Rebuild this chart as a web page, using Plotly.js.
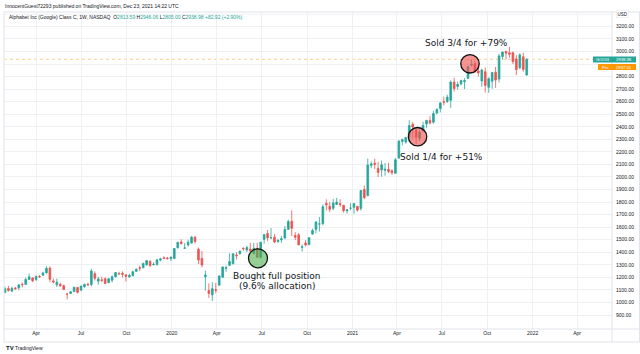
<!DOCTYPE html>
<html><head><meta charset="utf-8">
<script src="https://cdn.plot.ly/plotly-3.0.1.min.js"></script>
<style>html,body{margin:0;padding:0;background:#fff;}#chart{width:640px;height:354px;}</style>
</head><body><div id="chart"></div>
<script>
// ---- data (weekly GOOG bars) ----
const weeks = ['2019-01-28','2019-02-04','2019-02-11','2019-02-18','2019-02-25','2019-03-04','2019-03-11','2019-03-18','2019-03-25','2019-04-01','2019-04-08','2019-04-15','2019-04-22','2019-04-29','2019-05-06','2019-05-13','2019-05-20','2019-05-27','2019-06-03','2019-06-10','2019-06-17','2019-06-24','2019-07-01','2019-07-08','2019-07-15','2019-07-22','2019-07-29','2019-08-05','2019-08-12','2019-08-19','2019-08-26','2019-09-02','2019-09-09','2019-09-16','2019-09-23','2019-09-30','2019-10-07','2019-10-14','2019-10-21','2019-10-28','2019-11-04','2019-11-11','2019-11-18','2019-11-25','2019-12-02','2019-12-09','2019-12-16','2019-12-23','2019-12-30',
'2020-01-06','2020-01-13','2020-01-20','2020-01-27','2020-02-03','2020-02-10','2020-02-17','2020-02-24','2020-03-02','2020-03-09','2020-03-16','2020-03-23','2020-03-30','2020-04-06','2020-04-13','2020-04-20','2020-04-27','2020-05-04','2020-05-11','2020-05-18','2020-05-25','2020-06-01','2020-06-08','2020-06-15','2020-06-22','2020-06-29','2020-07-06','2020-07-13','2020-07-20','2020-07-27','2020-08-03','2020-08-10','2020-08-17','2020-08-24','2020-08-31','2020-09-07','2020-09-14','2020-09-21','2020-09-28','2020-10-05','2020-10-12','2020-10-19','2020-10-26','2020-11-02','2020-11-09','2020-11-16','2020-11-23','2020-11-30','2020-12-07','2020-12-14','2020-12-21','2020-12-28',
'2021-01-04','2021-01-11','2021-01-18','2021-01-25','2021-02-01','2021-02-08','2021-02-15','2021-02-22','2021-03-01','2021-03-08','2021-03-15','2021-03-22','2021-03-29','2021-04-05','2021-04-12','2021-04-19','2021-04-26','2021-05-03','2021-05-10','2021-05-17','2021-05-24','2021-05-31','2021-06-07','2021-06-14','2021-06-21','2021-06-28','2021-07-05','2021-07-12','2021-07-19','2021-07-26','2021-08-02','2021-08-09','2021-08-16','2021-08-23','2021-08-30','2021-09-06','2021-09-13','2021-09-20','2021-09-27','2021-10-04','2021-10-11','2021-10-18','2021-10-25','2021-11-01','2021-11-08','2021-11-15','2021-11-22','2021-11-29','2021-12-06','2021-12-13','2021-12-20'];

const openP = [1080,1112,1090,1116,1116,1144,1144,1183,1196,1184,1208,1218,1236,1274,1172,1141,1145,1134,1066,1072,1087,1120,1098,1125,1146,1143,1230,1170,1180,1190,1159,1178,1205,1230,1233,1220,1204,1213,1248,1276,1276,1300,1329,1300,1302,1338,1356,1355,1350,
1350,1436,1483,1433,1458,1474,1520,1424,1351,1205,1096,1061,1102,1138,1201,1271,1296,1308,1378,1390,1431,1418,1426,1390,1432,1360,1503,1550,1515,1520,1486,1500,1514,1583,1647,1533,1539,1440,1474,1460,1545,1583,1625,1628,1790,1767,1750,1781,1788,1775,1730,1751,
1758,1767,1748,1900,1853,2093,2110,2068,2056,2054,2061,2050,2030,2150,2284,2279,2320,2420,2374,2309,2367,2422,2451,2436,2510,2545,2600,2602,2611,2756,2722,2743,2760,2786,2890,2902,2845,2765,2839,2715,2763,2835,2780,2960,3000,2990,2990,2941,2870,2958,2813.59];

const highP = [1126,1132,1126,1124,1143,1159,1198,1231,1201,1216,1220,1245,1289,1288,1190,1190,1158,1143,1077,1093,1123,1123,1132,1152,1158,1269,1248,1205,1205,1200,1194,1215,1243,1245,1248,1227,1228,1254,1272,1294,1317,1336,1335,1320,1344,1357,1368,1363,1368,
1434,1481,1504,1475,1500,1530,1530,1438,1410,1254,1152,1162,1157,1218,1285,1294,1392,1392,1400,1412,1441,1453,1474,1475,1476,1483,1543,1578,1593,1545,1507,1530,1610,1660,1734,1560,1553,1462,1497,1520,1589,1650,1682,1782,1822,1800,1826,1833,1823,1777,1746,1792,
1790,1768,1897,1933,2146,2124,2145,2121,2131,2112,2112,2060,2153,2295,2306,2318,2452,2437,2380,2375,2440,2455,2485,2527,2546,2597,2641,2656,2770,2791,2760,2775,2787,2883,2938,2925,2889,2861,2873,2794,2833,2877,2982,3000,3008,3037,3000,2970,2985,2990,2946.06];

const lowP = [1074,1087,1090,1100,1097,1120,1140,1182,1162,1172,1198,1210,1232,1162,1152,1123,1124,1100,1025,1067,1086,1071,1094,1118,1136,1130,1175,1142,1162,1150,1153,1160,1200,1219,1199,1167,1198,1211,1245,1250,1275,1294,1281,1298,1293,1328,1350,1340,1330,
1349,1430,1465,1430,1446,1470,1470,1307,1280,1094,1037,1013,1074,1136,1200,1245,1290,1306,1343,1380,1410,1402,1395,1385,1356,1351,1469,1490,1505,1474,1475,1475,1504,1580,1528,1496,1458,1406,1446,1458,1540,1550,1565,1617,1733,1720,1735,1776,1762,1716,1710,1736,
1707,1724,1732,1823,1846,2071,2063,2000,2003,2010,2030,2016,2026,2150,2252,2265,2305,2308,2263,2285,2360,2392,2420,2425,2500,2515,2570,2590,2550,2681,2695,2730,2700,2780,2882,2829,2800,2719,2673,2671,2703,2710,2754,2937,2936,2950,2900,2812,2860,2839,2805.00];

const closeP = [1110,1095,1113,1110,1141,1142,1184,1205,1173,1207,1204,1236,1272,1185,1164,1162,1133,1104,1066,1085,1122,1081,1131,1144,1140,1250,1193,1188,1177,1151,1189,1205,1239,1229,1225,1209,1215,1245,1265,1273,1311,1334,1295,1304,1340,1347,1350,1351,1360,
1430,1480,1467,1434,1480,1520,1486,1339,1298,1219,1072,1110,1097,1211,1283,1276,1326,1388,1373,1410,1428,1438,1412,1431,1360,1480,1541,1515,1516,1482,1495,1507,1582,1645,1591,1520,1459,1444,1459,1516,1573,1641,1626,1763,1777,1742,1793,1800,1781,1732,1738,1751,
1788,1736,1892,1836,2096,2104,2101,2036,2097,2061,2043,2035,2137,2285,2297,2315,2410,2398,2316,2356,2411,2451,2430,2506,2539,2590,2596,2636,2756,2704,2738,2768,2768,2880,2896,2838,2829,2852,2730,2783,2833,2772,2965,2995,2987,2978,2919,2856,2973,2856.06,2938.98];

const monthTicks = ['2019-04-01','2019-07-01','2019-10-01','2020-01-01','2020-04-01','2020-07-01','2020-10-01','2021-01-01','2021-04-01','2021-07-01','2021-10-01','2022-01-01','2022-04-01'];
const monthLabels = ['Apr','Jul','Oct','2020','Apr','Jul','Oct','2021','Apr','Jul','Oct','2022','Apr'];
const priceTicks = [900,1000,1100,1200,1300,1400,1500,1600,1700,1800,1900,2000,2100,2200,2300,2400,2500,2600,2700,2800,2900,3000,3100,3200];
const hiddenTickLabels = [2900]; // covered by the price tags
const lastPrice = 2938.98;
const prePrice = 2937.51;
const prevClose = 2856.06;

// trade markers (date, price)
const buyPoint = {date:'2020-06-23 14:00', price:1352};
const sellPoints = [{date:'2021-05-12 20:00', price:2321},{date:'2021-08-27 02:00', price:2902}];

// ---- layout helpers (pixel -> paper) ----
const PL=4, PR=612, PT=12, PB=329;
const px = x => (x-PL)/(PR-PL);
const py = y => (PB-y)/(PB-PT);
const UP='#26a69a', DN='#ef5350', TXT='#131722', BORDER='#e0e3eb', GRID='#eef0f4';

const n = closeP.length;
const o=openP[n-1], h=highP[n-1], l=lowP[n-1], c=closeP[n-1];
const chg = c - prevClose, chgPct = chg/prevClose*100;
const tc = s => `<span style="color:${UP}">${s}</span>`;
const legendLine = `Alphabet Inc (Google) Class C, 1W, NASDAQ  O${tc(o.toFixed(2))} H${tc(h.toFixed(2))} L${tc(l.toFixed(2))} C${tc(c.toFixed(2))} ${tc('+'+chg.toFixed(2)+' (+'+chgPct.toFixed(2)+'%)')}`;

function txt(text, x, y, size, opts){
  return Object.assign({text, xref:'paper', yref:'paper', x:px(x), y:py(y), showarrow:false,
    xanchor:'left', yanchor:'middle', font:{size, color:TXT}}, opts||{});
}
function pline(x0,y0,x1,y1,color){
  return {type:'line', xref:'paper', yref:'paper', x0:px(x0), y0:py(y0), x1:px(x1), y1:py(y1), line:{color, width:1}, layer:'above'};
}
function prect(x0,y0,x1,y1,color){
  return {type:'rect', xref:'paper', yref:'paper', x0:px(x0), y0:py(y0), x1:px(x1), y1:py(y1), line:{width:0}, fillcolor:color, layer:'above'};
}
function circ(pt, r, fill){
  return {type:'circle', xref:'x', yref:'y', xsizemode:'pixel', ysizemode:'pixel', xanchor:pt.date, yanchor:pt.price,
    x0:-r, x1:r, y0:-r, y1:r, fillcolor:fill, line:{color:'#111', width:1.3}, layer:'above'};
}

const ann = 'DejaVu Sans, Verdana, sans-serif';
const tagFont = {size:4.2, color:'#fff'};
const shapes = [
  {type:'line', xref:'paper', yref:'y', x0:0, x1:1, y0:prePrice, y1:prePrice, line:{color:'rgba(255,152,0,0.45)', width:1, dash:'dot'}, layer:'below'},
  {type:'line', xref:'paper', yref:'paper', x0:0, x1:1, y0:py(14.3), y1:py(14.3), line:{color:GRID, width:1}, layer:'below'},
  pline(PL,PT,640,PT,BORDER), pline(PL,PT,PL,342,BORDER), pline(PL,PB,640,PB,BORDER),
  pline(PL,342,640,342,BORDER), pline(PR,PT,PR,342,BORDER), pline(639.5,PT,639.5,342,BORDER),
  circ(buyPoint, 9.5, 'rgba(76,175,80,0.6)'),
  circ(sellPoints[0], 9.2, 'rgba(239,83,80,0.62)'),
  circ(sellPoints[1], 9.2, 'rgba(239,83,80,0.62)'),
  prect(593,56.5,PR,62.5,UP), prect(PR,56.5,636,62.5,UP),
  prect(598,64,PR,70,'#ff9800'), prect(PR,64,636,70,'#ff9800')
];

const annotations = [
  txt('InnocentGuest72293 published on TradingView.com, Dec 23, 2021 14:22 UTC', 3, 6, 5),
  txt(legendLine, 7, 16.6, 5),
  txt('Bought full position', 276.5, 275.5, 9, {xanchor:'center', font:{size:9, color:TXT, family:ann}}),
  txt('(9.6% allocation)', 276.5, 285.5, 9, {xanchor:'center', font:{size:9, color:TXT, family:ann}}),
  txt('Sold 1/4 for +51%', 441.7, 156.7, 9, {xanchor:'center', font:{size:9, color:TXT, family:ann}}),
  txt('Sold 3/4 for +79%', 466.3, 42.7, 9, {xanchor:'center', font:{size:9, color:TXT, family:ann}}),
  txt('GOOG', 602.5, 59.5, 4.2, {xanchor:'center', font:tagFont, borderpad:0}),
  txt(lastPrice.toFixed(2), 624, 59.5, 4.2, {xanchor:'center', font:tagFont, borderpad:0}),
  txt('Pre', 605, 67, 4.2, {xanchor:'center', font:tagFont, borderpad:0}),
  txt(prePrice.toFixed(2), 624, 67, 4.2, {xanchor:'center', font:tagFont, borderpad:0}),
  txt('USD', 622, 14.5, 4.5, {xanchor:'center', bgcolor:'#fff', bordercolor:BORDER, borderwidth:0.5, borderpad:1, font:{size:4.5, color:TXT}}),
  txt('<b>TV</b>', 4, 348, 6),
  txt('TradingView', 13, 348, 5)
];

const trace = {
  type:'candlestick', x:weeks, open:openP, high:highP, low:lowP, close:closeP,
  increasing:{line:{color:UP, width:0.8}, fillcolor:UP},
  decreasing:{line:{color:DN, width:0.8}, fillcolor:DN},
  whiskerwidth:0, hoverinfo:'skip', showlegend:false
};

const layout = {
  width:640, height:354, margin:{l:PL, r:640-PR, t:PT, b:354-PB, pad:0},
  paper_bgcolor:'#fff', plot_bgcolor:'#fff', showlegend:false,
  font:{family:'Liberation Sans, Arial, sans-serif', color:TXT, size:5},
  xaxis:{type:'date', range:['2019-01-26','2022-06-10 19:00'], rangeslider:{visible:false},
    tickmode:'array', tickvals:monthTicks, ticktext:monthLabels, showgrid:true, gridcolor:GRID,
    zeroline:false, showline:false, ticks:'', tickfont:{size:5, color:TXT}, fixedrange:true},
  yaxis:{side:'right', range:[788.8, 3314.7], tickmode:'array', tickvals:priceTicks,
    ticktext:priceTicks.map(v=>hiddenTickLabels.includes(v)?'':v.toFixed(2)), showgrid:true, gridcolor:GRID, zeroline:false,
    showline:false, ticks:'', ticklabelstandoff:3, tickfont:{size:5, color:TXT}, fixedrange:true},
  shapes, annotations
};

Plotly.newPlot('chart', [trace], layout, {staticPlot:true, displayModeBar:false});
</script></body></html>
